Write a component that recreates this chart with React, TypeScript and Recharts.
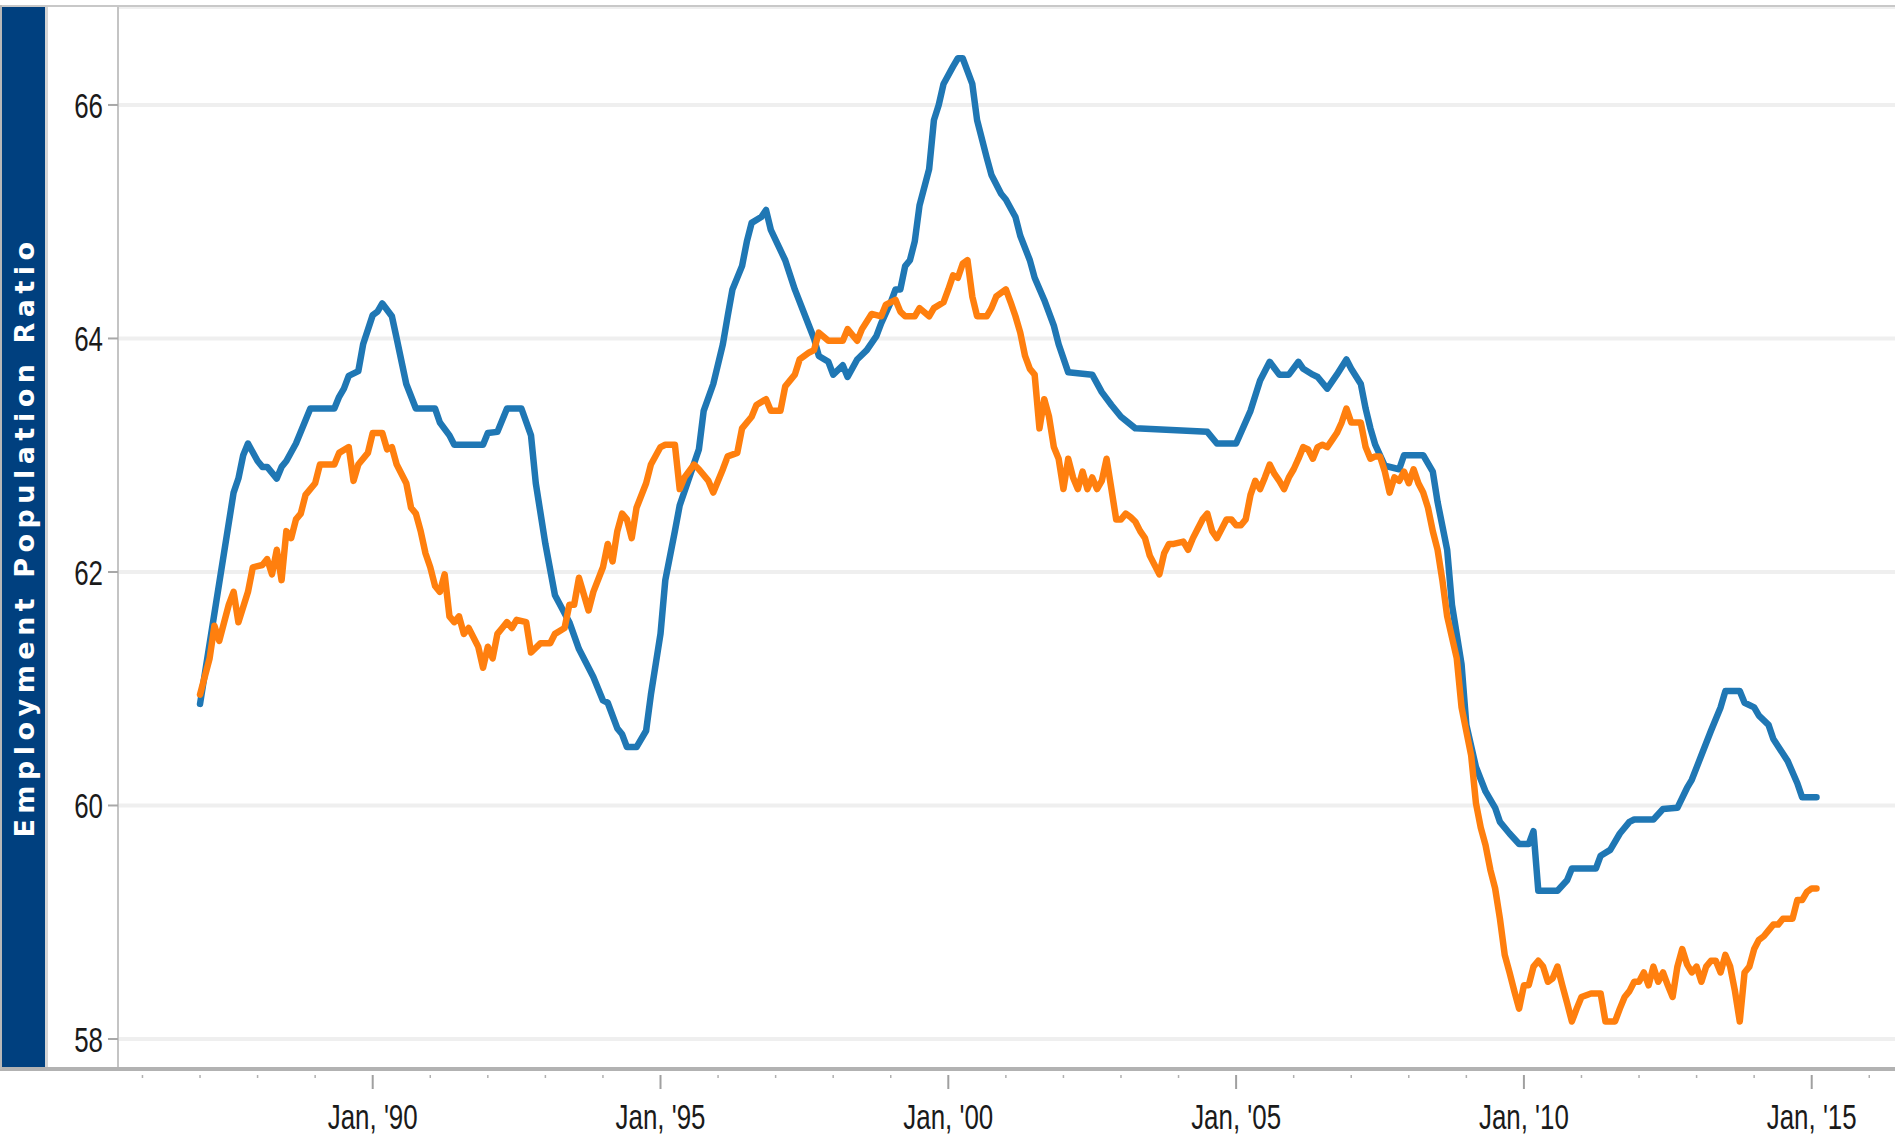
import React from "react";
import { LineChart, Line, XAxis, YAxis, CartesianGrid } from "recharts";

// ---- Data ----
const blueDates = [
  "1987-01","1987-08","1987-09","1987-10","1987-11",
  "1988-01","1988-02","1988-03","1988-05","1988-06","1988-07","1988-09","1988-12",
  "1989-03","1989-05","1989-06","1989-07","1989-08","1989-10","1989-11",
  "1990-01","1990-02","1990-03","1990-05","1990-06","1990-08","1990-10",
  "1991-02","1991-03","1991-05","1991-06","1991-12",
  "1992-01","1992-03","1992-05","1992-08","1992-10","1992-11",
  "1993-01","1993-03","1993-06","1993-08","1993-11",
  "1994-01","1994-02","1994-04","1994-05","1994-06","1994-08","1994-10","1994-11",
  "1995-01","1995-02","1995-04","1995-05","1995-07","1995-09","1995-10","1995-12",
  "1996-02","1996-03","1996-04","1996-06","1996-07","1996-08","1996-10","1996-11","1996-12",
  "1997-03","1997-05","1997-07","1997-09","1997-10","1997-12",
  "1998-01","1998-03","1998-04","1998-06","1998-08","1998-10","1998-11",
  "1999-01","1999-02","1999-03","1999-04","1999-05","1999-06","1999-07","1999-09","1999-10","1999-11","1999-12",
  "2000-02","2000-03","2000-04","2000-06","2000-07","2000-09","2000-10","2000-12",
  "2001-01","2001-03","2001-04","2001-06","2001-07","2001-09","2001-11","2001-12",
  "2002-02","2002-07","2002-09","2002-11",
  "2003-01","2003-04",
  "2004-07","2004-09",
  "2005-01","2005-04","2005-06","2005-08","2005-10","2005-12",
  "2006-02","2006-03","2006-05","2006-06","2006-08","2006-10","2006-12",
  "2007-01","2007-03","2007-04","2007-05","2007-06","2007-08","2007-11","2007-12",
  "2008-04","2008-06","2008-07","2008-09","2008-10","2008-12",
  "2009-01","2009-03","2009-05","2009-07","2009-08","2009-10","2009-12",
  "2010-02","2010-03","2010-04","2010-08","2010-10","2010-11",
  "2011-04","2011-05","2011-07","2011-09","2011-11","2011-12",
  "2012-04","2012-06","2012-09","2012-11","2012-12",
  "2013-02","2013-04","2013-06","2013-07","2013-10","2013-11",
  "2014-01","2014-02","2014-04","2014-05","2014-08","2014-10","2014-11",
  "2015-02",
];
const blueValues = [
  60.87, 62.68, 62.8, 63.0, 63.1,
  62.95, 62.9, 62.9, 62.8, 62.9, 62.95, 63.1, 63.4,
  63.4, 63.4, 63.5, 63.57, 63.68, 63.72, 63.95,
  64.2, 64.23, 64.3, 64.19, 64.0, 63.61, 63.4,
  63.4, 63.28, 63.17, 63.09, 63.09,
  63.19, 63.2, 63.4, 63.4, 63.17, 62.76,
  62.24, 61.8, 61.57, 61.34, 61.1,
  60.9, 60.88, 60.66, 60.61, 60.5, 60.5, 60.64, 60.95,
  61.47, 61.93, 62.35, 62.57, 62.81, 63.05, 63.38, 63.61,
  63.95, 64.19, 64.42, 64.62, 64.83, 64.99, 65.04, 65.1, 64.93,
  64.67, 64.42, 64.21, 64.0, 63.85, 63.8,
  63.69, 63.77, 63.67, 63.82, 63.9, 64.02, 64.13,
  64.31, 64.42, 64.42, 64.62, 64.67, 64.83, 65.14, 65.45, 65.87, 66.0, 66.18,
  66.33, 66.4, 66.4, 66.18, 65.87, 65.55, 65.4, 65.24,
  65.19, 65.04, 64.88, 64.67, 64.52, 64.33, 64.11, 63.95,
  63.71, 63.69, 63.54, 63.43,
  63.33, 63.23,
  63.2, 63.1,
  63.1, 63.38, 63.64, 63.8, 63.69, 63.69,
  63.8, 63.74, 63.69, 63.67, 63.57, 63.69, 63.82,
  63.74, 63.61, 63.4, 63.23, 63.09, 62.91, 62.88, 63.0,
  63.0, 62.86, 62.6, 62.19, 61.72, 61.21,
  60.69, 60.33, 60.12, 59.98, 59.86, 59.76, 59.67,
  59.67, 59.78, 59.27, 59.27, 59.36, 59.46,
  59.46, 59.57, 59.62, 59.76, 59.86, 59.88,
  59.88, 59.97, 59.98, 60.15, 60.22,
  60.43, 60.64, 60.84, 60.98, 60.98, 60.88,
  60.84, 60.77, 60.69, 60.57, 60.38, 60.19, 60.07,
  60.07,
];

const orangeDates = [
  "1987-01","1987-03","1987-04","1987-05","1987-07","1987-08","1987-09","1987-11","1987-12",
  "1988-02","1988-03","1988-04","1988-05","1988-06","1988-07","1988-08","1988-09","1988-10","1988-11",
  "1989-01","1989-02","1989-03","1989-05","1989-06","1989-08","1989-09","1989-10","1989-12",
  "1990-01","1990-03","1990-04","1990-05","1990-06","1990-08","1990-09","1990-10","1990-11","1990-12",
  "1991-01","1991-02","1991-03","1991-04","1991-05","1991-06","1991-07","1991-08","1991-09","1991-11","1991-12",
  "1992-01","1992-02","1992-03","1992-04","1992-05","1992-06","1992-07","1992-09","1992-10","1992-12",
  "1993-02","1993-03","1993-05","1993-06","1993-07","1993-08","1993-10","1993-11",
  "1994-01","1994-02","1994-03","1994-04","1994-05","1994-06","1994-07","1994-08","1994-10","1994-11",
  "1995-01","1995-02","1995-04","1995-05","1995-06","1995-08","1995-09","1995-11","1995-12",
  "1996-02","1996-03","1996-05","1996-06","1996-08","1996-09","1996-11","1996-12",
  "1997-02","1997-03","1997-05","1997-06","1997-08","1997-09","1997-10","1997-12",
  "1998-01","1998-03","1998-04","1998-06","1998-07","1998-09","1998-11","1998-12",
  "1999-02","1999-03","1999-04","1999-06","1999-07","1999-09","1999-10","1999-12",
  "2000-01","2000-02","2000-03","2000-04","2000-05","2000-06","2000-07","2000-08","2000-09","2000-10","2000-11",
  "2001-01","2001-02","2001-03","2001-04","2001-05","2001-06","2001-07","2001-08","2001-09","2001-10","2001-11","2001-12",
  "2002-01","2002-02","2002-03","2002-04","2002-05","2002-06","2002-07","2002-08","2002-09","2002-10","2002-11","2002-12",
  "2003-01","2003-02","2003-03","2003-04","2003-05","2003-06","2003-07","2003-09","2003-10","2003-11","2003-12",
  "2004-02","2004-03","2004-04","2004-05","2004-06","2004-07","2004-08","2004-09","2004-11","2004-12",
  "2005-01","2005-02","2005-03","2005-04","2005-05","2005-06","2005-07","2005-08","2005-09","2005-10","2005-11","2005-12",
  "2006-01","2006-02","2006-03","2006-04","2006-05","2006-06","2006-07","2006-08","2006-09","2006-10","2006-11","2006-12",
  "2007-01","2007-02","2007-03","2007-04","2007-05","2007-06","2007-07","2007-08","2007-09","2007-10","2007-11","2007-12",
  "2008-01","2008-02","2008-03","2008-04","2008-05","2008-06","2008-07","2008-08","2008-09","2008-11","2008-12",
  "2009-02","2009-03","2009-04","2009-05","2009-06","2009-07","2009-08","2009-09","2009-10","2009-11","2009-12",
  "2010-01","2010-02","2010-03","2010-04","2010-05","2010-06","2010-07","2010-08","2010-09","2010-10","2010-11","2010-12",
  "2011-01","2011-03","2011-04","2011-05","2011-06","2011-08","2011-09","2011-10","2011-11","2011-12",
  "2012-01","2012-02","2012-03","2012-04","2012-05","2012-06","2012-07","2012-08","2012-09","2012-10","2012-11","2012-12",
  "2013-01","2013-02","2013-03","2013-04","2013-05","2013-06","2013-07","2013-08","2013-09","2013-10","2013-11","2013-12",
  "2014-01","2014-02","2014-03","2014-04","2014-05","2014-06","2014-07","2014-08","2014-09","2014-10","2014-11","2014-12",
  "2015-01","2015-02",
];
const orangeValues = [
  60.95, 61.26, 61.54, 61.41, 61.72, 61.83, 61.57, 61.83, 62.04,
  62.06, 62.11, 61.98, 62.19, 61.93, 62.35, 62.29, 62.45, 62.5, 62.66,
  62.76, 62.92, 62.92, 62.92, 63.02, 63.07, 62.78, 62.92, 63.02,
  63.19, 63.19, 63.05, 63.07, 62.92, 62.76, 62.55, 62.5, 62.35, 62.16,
  62.04, 61.88, 61.83, 61.98, 61.62, 61.57, 61.62, 61.47, 61.52, 61.36, 61.18,
  61.36, 61.26, 61.47, 61.52, 61.57, 61.52, 61.59, 61.57, 61.31, 61.39,
  61.39, 61.47, 61.52, 61.72, 61.72, 61.95, 61.67, 61.83,
  62.04, 62.24, 62.09, 62.35, 62.5, 62.45, 62.29, 62.55, 62.76, 62.92,
  63.07, 63.09, 63.09, 62.71, 62.81, 62.92, 62.88, 62.78, 62.68,
  62.88, 62.99, 63.02, 63.23, 63.33, 63.43, 63.48, 63.38,
  63.38, 63.59, 63.69, 63.82, 63.88, 63.9, 64.05, 63.98,
  63.98, 63.98, 64.08, 63.98, 64.08, 64.21, 64.19, 64.29,
  64.33, 64.23, 64.19, 64.19, 64.26, 64.19, 64.26, 64.31,
  64.42, 64.54, 64.52, 64.64, 64.67, 64.36, 64.19, 64.19, 64.19, 64.26, 64.36,
  64.42, 64.31, 64.19, 64.05, 63.85, 63.74, 63.69, 63.23, 63.48, 63.33, 63.07, 62.97,
  62.71, 62.97, 62.81, 62.71, 62.86, 62.71, 62.81, 62.71, 62.78, 62.97, 62.71, 62.45,
  62.45, 62.5, 62.47, 62.43, 62.35, 62.29, 62.14, 61.98, 62.16, 62.24, 62.24,
  62.26, 62.19, 62.29, 62.37, 62.45, 62.5, 62.35, 62.29, 62.45, 62.45,
  62.4, 62.4, 62.45, 62.66, 62.78, 62.71, 62.81, 62.92, 62.84, 62.78, 62.71, 62.81,
  62.88, 62.97, 63.07, 63.05, 62.97, 63.07, 63.09, 63.07, 63.13, 63.19, 63.28, 63.4,
  63.28, 63.28, 63.28, 63.07, 62.97, 62.99, 62.99, 62.86, 62.68, 62.81, 62.78, 62.86,
  62.76, 62.88, 62.76, 62.68, 62.55, 62.35, 62.19, 61.93, 61.62, 61.26, 60.84,
  60.43, 60.02, 59.81, 59.66, 59.45, 59.29, 59.03, 58.72, 58.57, 58.41, 58.26,
  58.46, 58.46, 58.62, 58.67, 58.62, 58.49, 58.52, 58.62, 58.46, 58.31, 58.15, 58.26,
  58.36, 58.39, 58.39, 58.39, 58.15, 58.15, 58.26, 58.36, 58.41, 58.49,
  58.49, 58.57, 58.46, 58.62, 58.49, 58.57, 58.46, 58.36, 58.62, 58.77, 58.64, 58.57,
  58.62, 58.49, 58.62, 58.67, 58.67, 58.57, 58.72, 58.62, 58.41, 58.15, 58.57, 58.62,
  58.77, 58.85, 58.88, 58.93, 58.98, 58.98, 59.03, 59.03, 59.03, 59.19, 59.19, 59.26,
  59.29, 59.29,
];

const yTicks = [58, 60, 62, 64, 66];
const majorYears = [1990, 1995, 2000, 2005, 2010, 2015];
const majorLabels = ["Jan, '90", "Jan, '95", "Jan, '00", "Jan, '05", "Jan, '10", "Jan, '15"];
const allYears = [
  1986, 1987, 1988, 1989, 1990, 1991, 1992, 1993, 1994, 1995, 1996, 1997, 1998, 1999, 2000,
  2001, 2002, 2003, 2004, 2005, 2006, 2007, 2008, 2009, 2010, 2011, 2012, 2013, 2014, 2015, 2016,
];
const yAxisTitle = "Employment Population Ratio";

// ---- helpers ----
const toYear = (s: string) => {
  const [y, m] = s.split("-").map(Number);
  return y + (m - 1) / 12;
};
const blueData = blueDates.map((d, i) => ({ t: toYear(d), v: blueValues[i] }));
const orangeData = orangeDates.map((d, i) => ({ t: toYear(d), v: orangeValues[i] }));

const W = 1895;
const H = 1137;
const TICK_FONT = "'Liberation Sans', Arial, sans-serif";
const TICK_SIZE = 36;
const NARROW = 0.72;

const XTick = (props: any) => {
  const { x, y, payload } = props;
  const idx = majorYears.indexOf(payload.value);
  const major = idx >= 0;
  return (
    <g>
      <line
        x1={x}
        x2={x}
        y1={y + 6}
        y2={major ? y + 20 : y + 9}
        stroke={major ? "#a0a0a0" : "#b0b0b0"}
        strokeWidth={major ? 2 : 1.5}
      />
      {major && (
        <g transform={`translate(${x},${y + 34}) scale(${NARROW},1)`}>
          <text
            x={0}
            y={0}
            dy="0.71em"
            textAnchor="middle"
            fill="#1a1a1a"
            fontSize={TICK_SIZE}
            fontFamily={TICK_FONT}
          >
            {majorLabels[idx]}
          </text>
        </g>
      )}
    </g>
  );
};

const YTick = (props: any) => {
  const { x, y, payload } = props;
  return (
    <g transform={`translate(${x},${y}) scale(${NARROW},1)`}>
      <text
        x={0}
        y={0}
        dy="0.355em"
        textAnchor="end"
        fill="#1a1a1a"
        fontSize={TICK_SIZE}
        fontFamily={TICK_FONT}
      >
        {payload.value}
      </text>
    </g>
  );
};

export default function App() {
  return (
    <div
      style={{
        position: "absolute",
        left: 0,
        top: 0,
        width: W,
        height: H,
        background: "#fff",
        overflow: "hidden",
      }}
    >
      <LineChart width={W} height={H} margin={{ top: 7, right: 0, bottom: 0, left: 0 }}>
        <CartesianGrid vertical={false} stroke="#efefef" strokeWidth={4} />
        <XAxis
          dataKey="t"
          type="number"
          domain={[1985.575, 2016.447]}
          allowDataOverflow
          ticks={allYears}
          interval={0}
          height={68}
          tickSize={0}
          tickMargin={0}
          tickLine={false}
          axisLine={false}
          tick={(p: any) => <XTick {...p} />}
        />
        <YAxis
          type="number"
          domain={[57.743, 66.839]}
          allowDataOverflow
          ticks={yTicks}
          interval={0}
          width={118}
          tickSize={10}
          tickMargin={5}
          tickLine={{ stroke: "#a8a8a8", strokeWidth: 2 }}
          axisLine={{ stroke: "#c4c4c4", strokeWidth: 2 }}
          tick={(p: any) => <YTick {...p} />}
        />
        <Line
          data={blueData}
          dataKey="v"
          type="linear"
          stroke="#1f77b4"
          strokeWidth={6.5}
          strokeLinejoin="round"
          strokeLinecap="round"
          dot={false}
          activeDot={false}
          isAnimationActive={false}
        />
        <Line
          data={orangeData}
          dataKey="v"
          type="linear"
          stroke="#ff7f0e"
          strokeWidth={6.5}
          strokeLinejoin="round"
          strokeLinecap="round"
          dot={false}
          activeDot={false}
          isAnimationActive={false}
        />
      </LineChart>

      {/* frame lines */}
      <div style={{ position: "absolute", left: 0, top: 5, width: W, height: 2, background: "#c8c8c8" }} />
      <div style={{ position: "absolute", left: 0, top: 1067, width: W, height: 4, background: "#b2b2b2" }} />
      <div style={{ position: "absolute", left: 0, top: 5, width: 2, height: 1064, background: "#b8b8b8" }} />
      <div style={{ position: "absolute", left: 45, top: 7, width: 3, height: 1060, background: "#d4d4d4" }} />
      {/* y-axis title bar */}
      <div
        style={{
          position: "absolute",
          left: 2,
          top: 7,
          width: 43,
          height: 1060,
          background: "#00407f",
        }}
      />
      <div
        style={{
          position: "absolute",
          left: 24,
          top: 537,
          transform: "translate(-50%, -50%) rotate(-90deg)",
          whiteSpace: "nowrap",
          color: "#fff",
          fontWeight: 700,
          fontFamily: "'DejaVu Sans', Verdana, sans-serif",
          fontSize: 27,
          letterSpacing: 5.5,
          lineHeight: 1,
        }}
      >
        {yAxisTitle}
      </div>
    </div>
  );
}
